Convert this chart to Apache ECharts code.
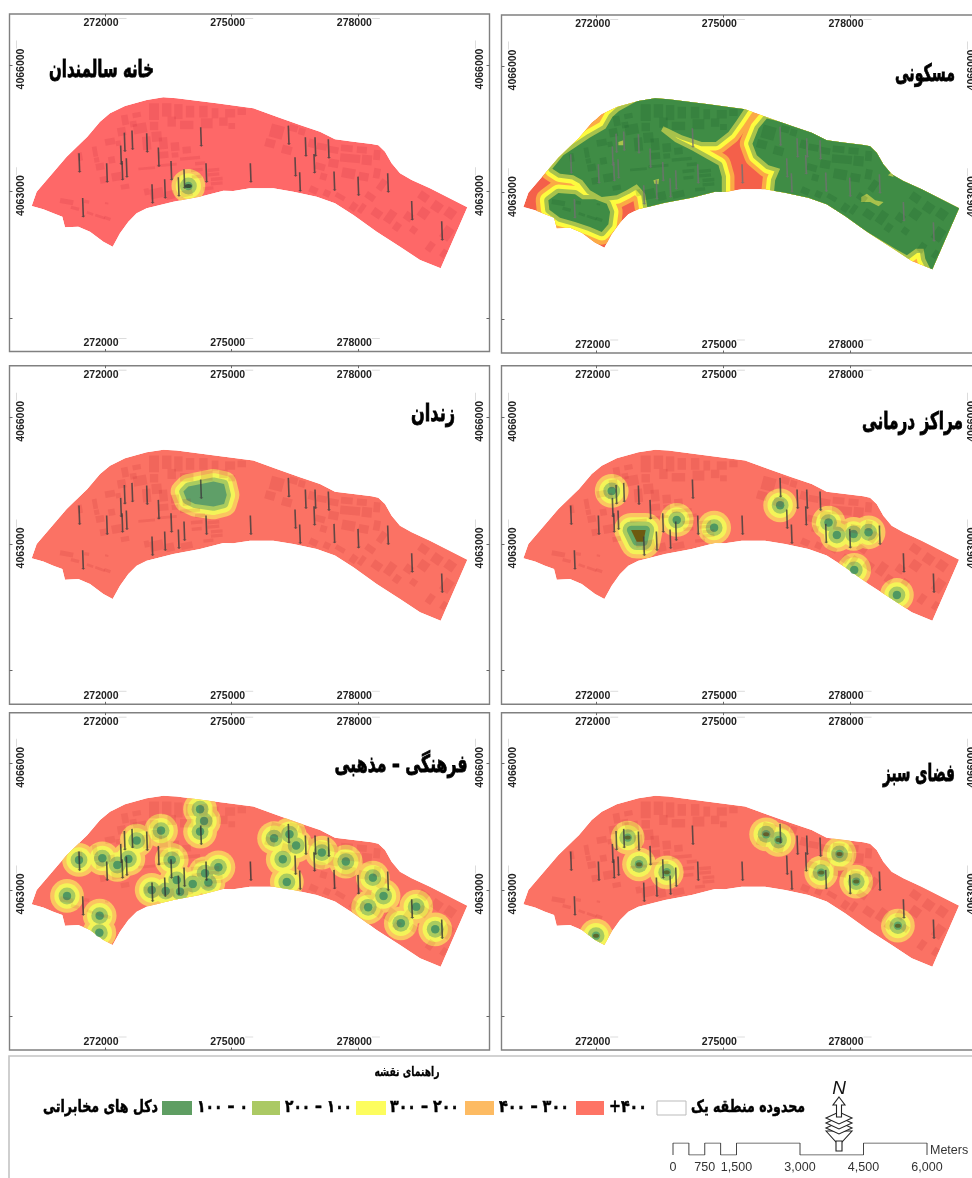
<!DOCTYPE html>
<html lang="fa">
<head>
<meta charset="utf-8">
<style>
html,body{margin:0;padding:0;background:#fff;overflow:hidden}
#c{width:972px;height:1178px;filter:blur(0.6px)}
</style>
<script src="https://cdn.jsdelivr.net/npm/echarts@6/dist/echarts.min.js"></script>
</head>
<body>
<div id="c"></div>
<script>
// ---------- data (map metres, UTM) ----------
const xTicks = [272000, 275000, 278000];
const yTicks = [4060000, 4063000, 4066000];
const yLabels = [4063000, 4066000];

const regionOutline = [[270263,4062660],[270382,4063000],[271092,4063829],[271582,4064303],[271882,4064658],[272118,4064855],[272474,4065029],[272987,4065171],[273382,4065234],[273697,4065211],[274645,4065092],[275513,4064974],[276066,4064776],[276618,4064579],[277092,4064421],[277447,4064239],[277882,4064184],[278316,4064129],[278474,4064097],[278632,4063947],[278789,4063671],[278987,4063434],[279263,4063276],[279697,4063079],[280582,4062629],[279950,4061184],[279461,4061382],[278987,4061697],[278434,4062053],[277882,4062447],[277447,4062724],[277013,4062882],[276461,4063000],[275987,4063079],[275434,4063079],[275039,4063016],[274803,4063024],[274250,4062882],[273618,4062763],[272987,4062605],[272750,4062487],[272553,4062289],[272355,4062013],[272182,4061697],[271961,4061816],[271645,4062053],[271368,4062171],[271053,4062155],[270989,4062408],[270776,4062487],[270539,4062582]];

const towers = [[271392,4063679],[272047,4063442],[271479,4062621],[272379,4063861],[272466,4064168],[272647,4064216],[272411,4063497],[272513,4063561],[272995,4064153],[273271,4063813],[273571,4063497],[273121,4062945],[273421,4063063],[273745,4063111],[273879,4063300],[274274,4064295],[274400,4063442],[275450,4063442],[276350,4064334],[276508,4063584],[276618,4063229],[276753,4064058],[276982,4064058],[276958,4063663],[277297,4064011],[277432,4063245],[278000,4063126],[278703,4063205],[279271,4062550],[279982,4062068]];

// [x, y, width, height, bearing]
const buildings = [[273161,4064896,237,395,0],[273462,4064936,221,316,0],[273738,4064896,198,356,0],[274015,4064896,198,277,0],[274331,4064896,198,277,0],[274607,4064857,158,237,0],[274963,4064857,237,198,0],[275239,4064896,198,158,0],[273161,4064556,198,198,0],[273580,4064659,198,237,0],[273936,4064580,316,198,0],[274410,4064620,277,237,0],[274805,4064659,198,198,0],[275002,4064556,158,142,0],
[272474,4064699,158,237,10],[272751,4064817,198,119,10],[272830,4064501,316,237,10],[272395,4064422,198,198,10],[272672,4064604,158,142,10],[273225,4064304,237,237,5],[273383,4064146,198,277,5],[272988,4064146,198,316,5],[273659,4064067,198,198,5],[273936,4063988,198,158,5],[273659,4063869,158,119,5],[273383,4063869,237,158,5],
[271763,4063948,111,237,10],[271408,4063830,111,198,10],[272119,4064185,237,158,10],[272316,4064146,119,119,10],[271882,4063593,198,158,10],[272158,4063751,158,158,10],[271803,4063751,119,119,10],[271961,4063277,158,158,10],[272277,4063356,237,198,10],[272474,4063119,198,119,10],
[274568,4063514,277,79,5],[274568,4063411,277,79,5],[274647,4063300,277,79,5],[274647,4063198,277,79,5],[274449,4063079,237,79,5],[274173,4063514,277,79,5],[274173,4063356,237,79,5],[272988,4063553,395,63,5],[273462,4063632,474,63,5],[274015,4063790,474,79,5],[274252,4063672,237,79,5],[273225,4062961,316,237,12],[273541,4062921,198,198,12],[273936,4062961,277,158,12],[272988,4063000,119,158,12],
[271092,4062763,316,119,-10],[271289,4062605,198,79,-15],[271645,4062487,158,63,-20],[271882,4062408,237,63,-20],[272055,4062368,158,79,-20],[272040,4062724,79,47,-10],[271566,4062763,119,79,-10],
[276069,4064422,316,316,-15],[275911,4064146,237,198,-15],[276306,4063988,237,198,-15],[276464,4064501,198,158,-15],[276661,4064422,158,158,-15],[276898,4064146,158,198,-15],[277135,4064067,237,158,-10],[277412,4063988,237,158,-10],[277728,4064027,277,158,-5],[278083,4063988,237,158,-5],[277807,4063790,474,198,-5],[278202,4063751,237,237,-5],[278439,4063869,158,237,-5],[277767,4063435,316,237,-10],[278123,4063356,237,198,-10],[278439,4063435,158,237,-10],[277412,4063672,237,198,-10],[277096,4063593,237,158,-15],[277175,4063356,158,158,-15],[276938,4063040,198,158,-25],[277254,4062961,158,158,-25],[277570,4062882,237,119,-30],
[277886,4062645,158,198,-35],[278083,4062605,119,237,-35],[278281,4062882,237,158,-35],[278557,4063158,158,277,-35],[278439,4062487,237,198,-35],[278754,4062408,198,316,-35],[278913,4062171,158,198,-35],[279308,4062092,158,158,-35],[279545,4062487,237,237,-35],[279545,4062882,237,198,-35],[279861,4062645,237,237,-35],[280177,4062487,237,237,-35],[280098,4062013,237,316,-35],[279703,4061697,158,237,-35],[280019,4061539,119,198,-35],[279189,4062408,198,198,-35]];

const careHomeSites = [[273975,4063134]];
const culturalSites = [[271100,4062858],[271874,4062392],[271866,4061989],[271384,4063711],[271937,4063750],[272292,4063592],[272553,4063735],[272750,4064169],[273327,4064406],[274252,4064912],[274346,4064635],[274252,4064382],[273580,4063711],[273699,4063237],[273106,4063000],[273438,4062976],[273778,4062960],[274078,4063142],[274449,4063174],[274370,4063395],[274686,4063537],[276005,4064225],[276369,4064319],[276527,4064051],[276211,4063727],[276306,4063190],[277135,4063885],[277704,4063672],[278344,4063292],[278597,4062858],[278233,4062589],[279007,4062210],[279371,4062605],[279821,4062068]];
const medicalSites = [[272356,4064256],[273896,4063569],[274781,4063387],[276345,4063916],[277491,4063506],[277688,4063213],[278083,4063237],[278439,4063277],[278099,4062384],[279110,4061791]];
const medicalArea = [[272814,4063332],[273161,4063332],[273106,4063055],[272948,4063055]];
const greenSites = [[272735,4064240],[273003,4063608],[273659,4063419],[271984,4061918],[276013,4064319],[276306,4064185],[277317,4063411],[277751,4063853],[278146,4063198],[279134,4062155]];
const prisonArea = [[273857,4064240],[273975,4064359],[274568,4064477],[274820,4064422],[274884,4064161],[274820,4063948],[274568,4063885],[274133,4063948],[273936,4064043]];
const residentialWest = [[270949,4063569],[271210,4063885],[271566,4064122],[271842,4064304],[272213,4064517],[272371,4064793],[272529,4064936],[272988,4065188],[273541,4065307],[275595,4065109],[275476,4064951],[275318,4064714],[275121,4064438],[274820,4064201],[274489,4064201],[274015,4064359],[273580,4064572],[273525,4064462],[273857,4064201],[274252,4064003],[274607,4063806],[274884,4063648],[274963,4063371],[274963,4062818],[273225,4062502],[273146,4062976],[272948,4063198],[272711,4063055],[272474,4062937],[272119,4062897],[271842,4063055],[271660,4063292],[271447,4063411],[271131,4063450]];
const residentialSouthWest = [[270855,4062818],[271092,4062992],[271487,4062961],[271660,4062842],[271961,4062842],[272237,4062739],[272316,4062542],[272277,4062250],[272119,4062068],[271842,4062186],[271487,4062305],[271131,4062408],[270878,4062597]];
const residentialEast = [[276029,4064754],[276701,4064596],[277491,4064319],[278439,4064201],[278913,4063766],[279308,4063371],[280651,4062700],[280177,4061041],[279900,4061199],[279782,4061436],[279742,4061673],[279560,4061673],[279347,4061515],[279071,4061673],[277491,4062621],[276701,4062858],[276187,4062897],[276227,4063292],[276345,4063569],[276069,4063648],[275792,4063885],[275689,4064161],[275832,4064517]];
const residentialGaps = [
 [[278265,4062897],[278399,4062976],[278597,4062818],[278794,4062779],[278676,4062676],[278478,4062779],[278265,4062779]],
 [[272514,4064201],[272632,4064240],[272632,4064122],[272514,4064122]],
 [[273343,4063292],[273477,4063332],[273462,4063198],[273367,4063213]],
 [[278897,4063411],[278992,4063490],[279031,4063371]]
];

const legendTitle = 'راهنمای نقشه';
const towerLabel = 'دکل های مخابراتی';
const classLabels = ['۱۰۰ – ۰','۲۰۰ – ۱۰۰','۳۰۰ – ۲۰۰','۴۰۰ – ۳۰۰','+۴۰۰'];
const classColors = ['#5f9e63','#abc964','#fdfd5e','#fdbb63','#fe7465'];
const boundaryLabel = 'محدوده منطقه یک';
const scaleTicks = [0,750,1500,3000,4500,6000];
const scaleSteps = [[0,0],[0,1],[375,1],[375,0],[750,0],[750,1],[1125,1],[1125,0],[1500,0],[1500,1],[3000,1],[3000,0],[4500,0],[4500,1],[6000,1],[6000,0]];

// ---------- panels ----------
const softRings = ['#62a866','#aacb5f','#f4f458','#fbc560'];
const panels = [
 {title:'خانه سالمندان', tx:101.5, ty:71, tw:105, L:9.5, R:489.5, T:14, B:351.5, x0:105, y0:65, base:'#fe6868', rings:softRings, bld:'rgba(170,20,40,0.12)', sites:careHomeSites, areas:[], areaFrom:0, dot:{size:[7,4],color:'#2c3a2c'}, tower:'#3c3c3c'},
 {title:'مسکونی', tx:925, ty:75, tw:60, L:501.5, R:981.5, T:15, B:353, x0:596.7, y0:66, base:'#f4604a', rings:['#3f8c45','#a8c24c','#fdfb3e','#fbaa45'], bld:'rgba(10,70,30,0.14)', sites:[], areas:[residentialWest,residentialSouthWest,residentialEast], areaFrom:1, gaps:residentialGaps, tower:'#707070'},
 {title:'زندان', tx:433, ty:415, tw:44, L:9.5, R:489.5, T:365.7, B:704.3, x0:105, y0:417.3, base:'#fb7264', rings:['#5f9f68','#aacb5f','#f4f458','#fbc560'], bld:'rgba(170,20,30,0.12)', sites:[], areas:[prisonArea], areaFrom:1, tower:'#3c3c3c'},
 {title:'مراکز درمانی', tx:912.5, ty:423, tw:101, L:501.5, R:981.5, T:365.7, B:704.3, x0:596.7, y0:417.3, base:'#fb7264', rings:softRings, bld:'rgba(170,20,30,0.12)', sites:medicalSites, areas:[medicalArea], areaFrom:0, core:'#6e5a10', dot:{size:8,color:'#4b9460'}, tower:'#3c3c3c'},
 {title:'فرهنگی – مذهبی', tx:401, ty:766, tw:133, L:9.5, R:489.5, T:712.7, B:1050, x0:105, y0:763.3, base:'#fb7264', rings:softRings, bld:'rgba(170,20,30,0.1)', sites:culturalSites, areas:[], areaFrom:0, dot:{size:8,color:'#4b9460'}, tower:'#333'},
 {title:'فضای سبز', tx:919, ty:775, tw:72, L:501.5, R:981.5, T:712.7, B:1050, x0:596.7, y0:763.3, base:'#fb7264', rings:softRings, bld:'rgba(170,20,30,0.12)', sites:greenSites, areas:[], areaFrom:0, dot:{size:[6,4],color:'#5a5a20'}, tower:'#3c3c3c'}
];
const S = (380/3)/3000; // px per metre

function bufferRenderer(p){
 return function(params, api){
  const toPx = a => a.map(q => api.coord(q));
  const unit = Math.abs(api.coord([275100,4063000])[0]-api.coord([275000,4063000])[0]);
  const kids = [{type:'polygon',shape:{points:toPx(regionOutline)},style:{fill:p.base}}];
  for(let n=4;n>=1;n--){
   const col = p.rings[n-1];
   p.sites.forEach(s=>{const c=api.coord(s);kids.push({type:'circle',shape:{cx:c[0],cy:c[1],r:n*unit},style:{fill:col}});});
   p.areas.forEach(a=>{
    const w = 2*(n-p.areaFrom)*unit;
    kids.push({type:'polygon',shape:{points:toPx(a)},style:{fill:col,stroke:w>0?col:null,lineWidth:w,lineJoin:'round'}});
   });
  }
  (p.gaps||[]).forEach(a=>kids.push({type:'polygon',shape:{points:toPx(a)},style:{fill:p.rings[1]}}));
  if(p.core) p.areas.forEach(a=>kids.push({type:'polygon',shape:{points:toPx(a)},style:{fill:p.core}}));
  return {type:'group',children:kids,clipPath:{type:'polygon',shape:{points:toPx(regionOutline)}}};
 };
}
function buildingRenderer(p){
 return function(params, api){
  const c = api.coord([api.value(0),api.value(1)]);
  const hw = api.value(2)*S/2, hh = api.value(3)*S/2, a = api.value(4)*Math.PI/180;
  const cs=Math.cos(a), sn=Math.sin(a);
  const pts=[[-hw,-hh],[hw,-hh],[hw,hh],[-hw,hh]].map(q=>[c[0]+q[0]*cs+q[1]*sn, c[1]-q[0]*sn+q[1]*cs]);
  return {type:'polygon',shape:{points:pts},style:{fill:p.bld}};
 };
}

const labelRich = {t:{fontFamily:'"Liberation Sans",Arial,sans-serif',fontWeight:'bold',fontSize:10.5,color:'#222'},g:{width:8,height:1,backgroundColor:'#dcdcdc',verticalAlign:'top'}};
const fmt = v => '{t|'+v+'}{g|}';
const grids=[],xAxes=[],yAxes=[],series=[];
panels.forEach((p,i)=>{
 grids.push({left:p.L,top:p.T,width:p.R-p.L,height:p.B-p.T,show:true,borderColor:'#808080',borderWidth:1.4,backgroundColor:'#fff',outerBoundsMode:'none',containLabel:false});
 const xMin=272000-(p.x0-p.L)/S,xMax=272000+(p.R-p.x0)/S,yMax=4066000+(p.y0-p.T)/S,yMin=4066000-(p.B-p.y0)/S;
 ['bottom','top'].forEach(pos=>xAxes.push({type:'value',gridIndex:i,position:pos,min:xMin,max:xMax,
   axisLine:{show:false},splitLine:{show:false},axisTick:{show:true,inside:true,length:2.5,customValues:xTicks,lineStyle:{color:'#666'}},
   axisLabel:{show:true,inside:true,margin:pos==='bottom'?2.5:4,customValues:xTicks,formatter:fmt,rich:labelRich}}));
 ['left','right'].forEach(pos=>yAxes.push({type:'value',gridIndex:i,position:pos,min:yMin,max:yMax,
   axisLine:{show:false},splitLine:{show:false},axisTick:{show:true,inside:true,length:3,customValues:yTicks,lineStyle:{color:'#666'}},
   axisLabel:{show:true,inside:true,rotate:90,margin:pos==='left'?6.5:3.5,customValues:yLabels,formatter:fmt,rich:labelRich}}));
 const ax={xAxisIndex:2*i,yAxisIndex:2*i};
 series.push(Object.assign({type:'custom',name:p.title,silent:true,data:[[275000,4063000]],renderItem:bufferRenderer(p),z:2},ax));
 if(p.dot&&p.sites.length) series.push(Object.assign({type:'scatter',silent:true,data:p.sites,symbol:'circle',symbolSize:p.dot.size,itemStyle:{color:p.dot.color},z:3},ax));
 series.push(Object.assign({type:'custom',silent:true,data:buildings,encode:{x:0,y:1},renderItem:buildingRenderer(p),z:4},ax));
 series.push(Object.assign({type:'scatter',name:towerLabel,silent:true,data:towers,symbol:'path://M3 0H7V92H10L5 100L0 92H3Z',symbolSize:[4,19.5],symbolRotate:2,itemStyle:{color:p.tower},z:5},ax));
});
// scale bar
grids.push({left:673,top:1143,width:254,height:12,show:false,outerBoundsMode:'none',containLabel:false});
xAxes.push({type:'value',gridIndex:6,min:0,max:6000,z:6,axisLine:{show:false},axisTick:{show:false},splitLine:{show:false},
  axisLabel:{show:true,margin:6.5,customValues:scaleTicks,fontFamily:'"Liberation Sans Narrow","Liberation Sans",sans-serif',fontSize:12.5,color:'#333',formatter:v=>v.toLocaleString('en-US')}});
yAxes.push({type:'value',gridIndex:6,min:0,max:1,show:false});
series.push({type:'line',xAxisIndex:12,yAxisIndex:12,silent:true,data:scaleSteps,symbol:'none',lineStyle:{color:'#444',width:1},z:3});

// ---------- texts and legend ----------
const mctx=document.createElement('canvas').getContext('2d');
function fit(text,x,y,size,w,sw){
 const font='bold '+size+'px "DejaVu Sans"';
 mctx.font=font;
 return {type:'text',x:x,y:y,scaleX:w/mctx.measureText(text).width,z:50,silent:true,style:{text:text,font:font,fill:'#000',stroke:'#000',lineWidth:sw||0.5,align:'center',verticalAlign:'middle'}};
}
const gfx=[];
panels.forEach(p=>gfx.push(fit(p.title,p.tx,p.ty,24,p.tw,0.8)));
gfx.push({type:'rect',shape:{x:9,y:1056,width:1000,height:200},z:1,silent:true,style:{fill:'#fff',stroke:'#c4c4c4',lineWidth:1.6}});
gfx.push(fit(legendTitle,407,1073,13,65,0.3));
gfx.push(fit(towerLabel,100.5,1108,17,115,0.5));
const sw=[[162,30],[252,28],[356,30],[465,29],[576,28]];
const lbl=[[222.5,51],[318.5,67],[424.5,69],[534,70],[628,38]];
classLabels.forEach((t,i)=>{
 gfx.push({type:'rect',shape:{x:sw[i][0],y:1101,width:sw[i][1],height:14},z:20,silent:true,style:{fill:classColors[i]}});
 gfx.push(fit(t,lbl[i][0],1108,17,lbl[i][1],0.5));
});
gfx.push({type:'rect',shape:{x:657,y:1101,width:29,height:14},z:20,silent:true,style:{fill:'#fff',stroke:'#bbb',lineWidth:1}});
gfx.push(fit(boundaryLabel,748,1108,17,114,0.5));
gfx.push({type:'text',x:930,y:1151,z:30,silent:true,style:{text:'Meters',font:'12.5px "Liberation Sans Narrow","Liberation Sans",sans-serif',fill:'#333',verticalAlign:'middle'}});
// north arrow
gfx.push({type:'text',x:839,y:1089,z:30,silent:true,style:{text:'N',font:'italic 19px "Liberation Sans",sans-serif',fill:'#111',align:'center',verticalAlign:'middle'}});
const st={fill:'#fff',stroke:'#222',lineWidth:1.1};
gfx.push({type:'polygon',z:31,silent:true,shape:{points:[[826,1131],[836,1142],[842,1142],[852,1131]]},style:st});
gfx.push({type:'rect',z:31,silent:true,shape:{x:836,y:1141,width:6,height:10},style:st});
[[1128],[1123],[1118]].forEach(r=>gfx.push({type:'polygon',z:32,silent:true,shape:{points:[[826,r[0]],[839,r[0]-6],[852,r[0]],[839,r[0]+6]]},style:st}));
gfx.push({type:'polygon',z:33,silent:true,shape:{points:[[839,1097],[845,1105],[841.5,1105],[841.5,1117],[836.5,1117],[836.5,1105],[833,1105]]},style:st});

const chart=echarts.init(document.getElementById('c'),null,{renderer:'canvas'});
chart.setOption({animation:false,backgroundColor:'#fff',grid:grids,xAxis:xAxes,yAxis:yAxes,series:series,graphic:{elements:gfx}});
</script>
</body>
</html>
